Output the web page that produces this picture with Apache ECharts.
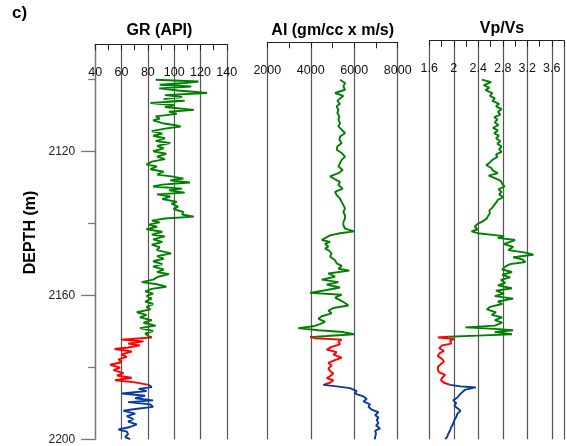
<!DOCTYPE html>
<html><head><meta charset="utf-8">
<script src="https://cdn.jsdelivr.net/npm/echarts@6.0.0/dist/echarts.min.js"></script>
<style>html,body{margin:0;padding:0;background:#fff}#c{width:567px;height:446px}</style>
</head><body><div id="c"></div><script>
// ---------- DATA ([depth m, value]) ----------
const grGreen = [[2100.0,86],[2100.5,118.5],[2100.9,108],[2101.4,89],[2101.9,113],[2102.4,88.6],[2103.0,103],[2103.7,125],[2104.3,93],[2104.8,106],
[2105.4,92],[2105.9,108],[2106.5,82],[2107.1,100],[2107.6,93],[2108.4,115],[2108.9,96],[2109.5,102],[2110.2,86],[2110.8,89],
[2111.3,84],[2112.1,91],[2112.6,100],[2113.0,105],[2113.6,93],[2114.3,83],[2115.0,91],[2115.6,84],[2116.3,93],[2117.1,86],
[2117.6,97],[2118.4,87],[2119.1,92],[2119.9,84],[2120.6,94],[2121.4,87],[2122.1,93],[2122.8,83],[2123.6,79],[2124.1,87],
[2124.9,82],[2125.6,92],[2126.4,87],[2126.9,98],[2127.5,107],[2128.0,97],[2128.6,112],[2129.2,91],[2129.7,84],[2130.3,106],
[2130.8,96],[2131.4,108],[2131.9,87],[2132.5,97],[2133.2,91],[2134.0,102],[2134.5,98],[2135.3,103],[2136.0,99.5],[2136.8,107],
[2137.5,106],[2138.1,115],[2138.6,93],[2139.2,83],[2139.7,89],[2140.3,80.5],[2140.9,87],[2141.6,79],[2142.3,91],[2143.1,83],
[2143.6,93],[2144.4,84],[2145.1,91],[2145.9,83],[2146.6,89],[2147.4,86.8],[2148.3,97.7],[2149.1,87],[2149.8,92],[2150.5,84],
[2151.3,91],[2152.0,84],[2152.8,92],[2153.5,87],[2154.1,96],[2154.8,88],[2155.6,84],[2156.3,75.4],[2156.9,87],[2157.6,94],
[2158.2,83],[2158.9,78],[2159.5,84],[2160.2,79],[2160.9,83],[2161.7,78],[2162.4,84],[2163.2,79],[2163.9,82],[2164.7,71.6],
[2165.4,79],[2166.1,74],[2166.9,83],[2167.6,76.7],[2168.4,86],[2169.1,74],[2169.9,84],[2170.6,78],[2171.3,80.4],[2171.7,83]];
const grRed = [[2171.7,83],[2172.3,59.7],[2172.8,76.7],[2173.4,65],[2173.9,74],[2174.5,65],[2174.9,54.7],[2175.6,67.8],[2176.4,60],[2177.1,64],
[2177.8,57.7],[2178.6,60],[2179.3,51.4],[2180.1,58.9],[2180.8,53.9],[2181.6,61.5],[2182.3,56.5],[2182.9,67.8],[2183.6,55],[2184.2,70.4],[2184.9,80.5]];
const grBlue = [[2184.9,80.5],[2185.5,83],[2186.0,73],[2186.6,79],[2187.3,60.3],[2187.9,78],[2188.6,70.4],[2189.2,84],[2189.7,65],[2190.3,81.8],
[2191.0,84],[2191.6,70.4],[2192.1,61.5],[2192.9,70.4],[2193.6,64],[2194.4,69],[2195.1,65],[2195.9,71.6],[2196.6,66.6],[2197.3,57.7],
[2197.9,64],[2198.6,65],[2199.4,62.8],[2200.0,66.6]];

const aiGreen = [[2100.0,5346],[2100.9,5577],[2101.9,5500],[2102.8,5577],[2103.7,5116],[2104.5,5500],[2105.2,5346],[2105.9,5224],[2106.7,5346],[2107.4,5193],
[2108.4,5270],[2109.3,5224],[2110.2,5316],[2111.1,5270],[2112.1,5346],[2113.0,5270],[2113.9,5423],[2114.9,5577],[2115.8,5346],[2116.7,5316],
[2117.6,5423],[2118.6,5224],[2119.5,5193],[2120.4,5423],[2121.4,5577],[2122.3,5423],[2123.2,5346],[2124.1,5270],[2125.1,5469],[2126.0,5270],
[2126.9,4886],[2127.7,5116],[2128.4,5346],[2129.3,5270],[2130.3,5469],[2131.2,5116],[2132.1,5193],[2133.1,5346],[2134.0,5423],[2134.9,5500],
[2135.8,5577],[2136.8,5500],[2137.7,5577],[2138.6,5577],[2139.6,5500],[2140.5,5500],[2141.4,5577],[2142.2,5991],[2142.7,5346],[2143.3,4886],
[2143.8,4809],[2144.6,4502],[2145.1,4886],[2145.7,4656],[2146.4,4809],[2147.0,4656],[2147.4,4809],[2148.3,4963],[2149.2,4886],[2150.2,5116],
[2151.1,5193],[2151.8,5423],[2152.6,5270],[2153.1,5776],[2153.9,4809],[2154.8,5116],[2155.6,4502],[2156.3,5270],[2157.0,4732],[2157.8,5346],
[2158.5,4732],[2159.3,3965],[2159.8,5423],[2160.6,5116],[2161.3,5346],[2162.1,5577],[2162.8,5730],[2163.5,5039],[2164.3,4809],[2165.0,4963],
[2165.8,4502],[2166.5,4349],[2167.3,4656],[2168.0,4425],[2168.6,4118],[2169.1,3428],[2169.7,4349],[2170.2,5500],[2170.8,5991],[2171.3,4732],[2171.6,3965]];
const aiRed = [[2171.6,3965],[2171.9,4195],[2172.3,5423],[2172.8,5270],[2173.6,5346],[2174.3,4963],[2175.1,4732],[2175.8,5193],[2176.5,5039],[2177.3,5423],
[2178.0,5116],[2178.8,4809],[2179.5,4963],[2180.3,4809],[2181.0,4886],[2181.7,5039],[2182.5,4886],[2183.0,4732],[2183.6,5039],[2184.3,4886],[2184.9,4579]];
const aiBlue = [[2184.9,4579],[2185.3,5193],[2185.8,5807],[2186.6,6114],[2187.3,6038],[2188.1,6421],[2188.8,6575],[2189.5,6421],[2190.3,6728],[2191.0,6651],
[2191.8,6805],[2192.5,7112],[2193.3,6958],[2194.0,7112],[2194.7,7035],[2195.5,7112],[2196.2,7004],[2197.0,7189],[2197.7,6958],[2198.5,7004],
[2199.4,6958],[2200.0,6958]];

const vpGreen = [[2100.0,2.46],[2100.7,2.61],[2101.5,2.49],[2102.2,2.58],[2102.9,2.52],[2103.7,2.63],[2104.5,2.59],[2105.2,2.67],[2105.9,2.63],[2106.7,2.74],
[2107.4,2.69],[2108.2,2.78],[2108.9,2.72],[2109.7,2.76],[2110.4,2.66],[2111.1,2.71],[2111.9,2.67],[2112.6,2.73],[2113.4,2.64],[2114.1,2.72],
[2114.9,2.66],[2115.6,2.74],[2116.3,2.69],[2117.1,2.76],[2117.8,2.71],[2118.6,2.78],[2119.3,2.74],[2120.1,2.78],[2120.8,2.69],[2121.5,2.71],
[2122.3,2.63],[2123.0,2.59],[2123.8,2.53],[2124.5,2.61],[2125.3,2.64],[2126.0,2.72],[2126.7,2.57],[2127.5,2.69],[2128.2,2.77],[2129.0,2.79],
[2129.7,2.83],[2130.5,2.73],[2131.2,2.78],[2131.9,2.74],[2132.7,2.81],[2133.4,2.72],[2134.2,2.69],[2134.9,2.66],[2135.7,2.62],[2136.4,2.58],
[2137.1,2.59],[2137.9,2.56],[2138.6,2.54],[2139.4,2.47],[2140.1,2.39],[2140.9,2.34],[2141.6,2.39],[2142.2,2.29],[2142.7,2.39],[2143.5,2.82],
[2144.0,2.72],[2144.6,3.0],[2145.1,2.92],[2145.7,2.82],[2146.5,2.97],[2147.4,2.89],[2148.1,3.17],[2148.7,3.30],[2149.4,2.97],[2150.0,3.12],
[2150.7,3.17],[2151.3,2.92],[2152.0,2.84],[2152.8,2.79],[2153.5,2.95],[2154.3,2.79],[2155.0,2.92],[2155.7,2.77],[2156.5,2.84],[2157.2,2.72],
[2158.0,2.95],[2158.7,2.69],[2159.5,2.82],[2160.2,2.67],[2160.9,2.97],[2161.7,2.72],[2162.4,2.79],[2163.2,2.59],[2163.9,2.54],[2164.7,2.69],
[2165.4,2.62],[2166.1,2.79],[2166.9,2.67],[2167.6,2.79],[2168.4,2.67],[2168.9,2.19],[2169.3,2.67],[2169.7,2.97],[2170.2,2.67],[2170.8,2.95],
[2171.2,2.39],[2171.5,1.91]];
const vpRed = [[2171.5,1.91],[2171.7,1.74],[2172.1,2.01],[2172.6,1.94],[2173.4,1.96],[2173.9,1.81],[2174.7,1.76],[2175.4,1.84],[2176.2,1.76],[2176.9,1.74],
[2177.7,1.81],[2178.4,1.84],[2179.1,1.79],[2179.9,1.74],[2180.6,1.74],[2181.4,1.76],[2182.1,1.86],[2182.9,1.81],[2183.6,1.79],[2184.3,1.84],[2184.9,1.94]];
const vpBlue = [[2184.9,1.94],[2185.3,2.11],[2185.6,2.36],[2186.2,2.19],[2186.9,2.14],[2187.7,2.09],[2188.4,2.06],[2189.2,1.99],[2189.9,2.04],[2190.7,2.01],
[2191.4,2.06],[2192.1,2.11],[2192.9,2.06],[2193.8,2.04],[2194.7,2.01],[2195.7,1.99],[2196.6,1.96],[2197.5,1.94],[2198.5,1.91],[2199.4,1.89],[2200.0,1.86]];

const depthMajorTicks = [2120, 2160, 2200];
const depthMinorTicks = [2100, 2140, 2180];
const trackTitles = ['GR (API)', 'AI (gm/cc x m/s)', 'Vp/Vs'];

// ---------- LAYOUT ----------
const FONT = '"Liberation Sans", Arial, Helvetica, sans-serif';
const DEPTH_MAX = 2200, PX_PER_M = 3.595, BOTTOM = 439.2;
const gridsPx = [
  {left: 95.2, top: 44.3, width: 131.6},
  {left: 267.3, top: 42.3, width: 130.4},
  {left: 429.3, top: 40.7, width: 145.6}
];
const grids = gridsPx.map(g => ({left: g.left, top: g.top, width: g.width, height: BOTTOM - g.top, containLabel: false}));
const yMins = grids.map(g => DEPTH_MAX - g.height / PX_PER_M);

const COL = {green: '#008000', red: '#ff0000', blue: '#0a3a9e'};

function topAxis(gi, min, max, interval, fmt) {
  return {
    type: 'value', gridIndex: gi, position: 'top', min: min, max: max, interval: interval,
    axisLine: {show: true, onZero: false, lineStyle: {color: '#222', width: 1}},
    axisTick: {show: true, inside: true, length: 6, lineStyle: {color: '#222', width: 1}},
    minorTick: {show: true, splitNumber: 2, length: 6, lineStyle: {color: '#222', width: 1}},
    axisLabel: {show: true, inside: true, margin: 21.5, color: '#111', fontSize: 12.5, fontFamily: FONT, formatter: fmt, hideOverlap: false},
    splitLine: {show: true, lineStyle: {color: '#555', width: 1.2}},
    minorSplitLine: {show: false}
  };
}

const xAxes = [
  topAxis(0, 40, 140, 20, v => String(v)),
  topAxis(1, 2000, 8000, 2000, v => String(v)),
  topAxis(2, 1.6, 3.8, 0.4, v => (v > 3.7 ? '' : String(parseFloat(v.toFixed(1)))))
];

const yAxes = [
  {type: 'value', gridIndex: 0, inverse: true, min: yMins[0], max: DEPTH_MAX, position: 'left',
   axisLine: {show: true, lineStyle: {color: '#777', width: 1.3}},
   axisTick: {show: true, length: 14, customValues: depthMajorTicks, lineStyle: {color: '#777', width: 1.3}},
   axisLabel: {show: true, customValues: depthMajorTicks, margin: 20, color: '#222', fontSize: 12, fontFamily: FONT, formatter: v => String(v)},
   splitLine: {show: false}},
  {type: 'value', gridIndex: 0, inverse: true, min: yMins[0], max: DEPTH_MAX, position: 'left',
   axisLine: {show: false},
   axisTick: {show: true, length: 7, customValues: depthMinorTicks, lineStyle: {color: '#777', width: 1.3}},
   axisLabel: {show: false}, splitLine: {show: false}},
  {type: 'value', gridIndex: 1, inverse: true, min: yMins[1], max: DEPTH_MAX, show: false},
  {type: 'value', gridIndex: 2, inverse: true, min: yMins[2], max: DEPTH_MAX, show: false}
];

function seg(data, xi, yi, color) {
  return {type: 'line', xAxisIndex: xi, yAxisIndex: yi, data: data.map(p => [p[1], p[0]]),
    showSymbol: false, symbol: 'none', smooth: false, clip: true, animation: false,
    lineStyle: {color: color, width: 1.9}, z: 3};
}

const series = [
  seg(grGreen, 0, 0, COL.green), seg(grRed, 0, 0, COL.red), seg(grBlue, 0, 0, COL.blue),
  seg(aiGreen, 1, 2, COL.green), seg(aiRed, 1, 2, COL.red), seg(aiBlue, 1, 2, COL.blue),
  seg(vpGreen, 2, 3, COL.green), seg(vpRed, 2, 3, COL.red), seg(vpBlue, 2, 3, COL.blue)
];

function txt(text, x, y, size, rot) {
  return {type: 'text', x: x, y: y, rotation: rot || 0, z: 10,
    style: {text: text, font: 'bold ' + size + 'px ' + FONT, fill: '#000',
      align: 'center', verticalAlign: 'middle', textAlign: 'center', textVerticalAlign: 'middle'}};
}

const graphic = [
  txt('c)', 19.5, 13.5, 17),
  txt(trackTitles[0], 159.5, 30.5, 16),
  txt(trackTitles[1], 332.7, 30.2, 16),
  txt(trackTitles[2], 502, 29, 16),
  txt('DEPTH (m)', 31, 232.5, 16, Math.PI / 2)
];

const chart = echarts.init(document.getElementById('c'), null, {renderer: 'canvas'});
chart.setOption({
  animation: false,
  backgroundColor: '#fff',
  grid: grids,
  xAxis: xAxes,
  yAxis: yAxes,
  series: series,
  graphic: graphic
});
</script></body></html>
